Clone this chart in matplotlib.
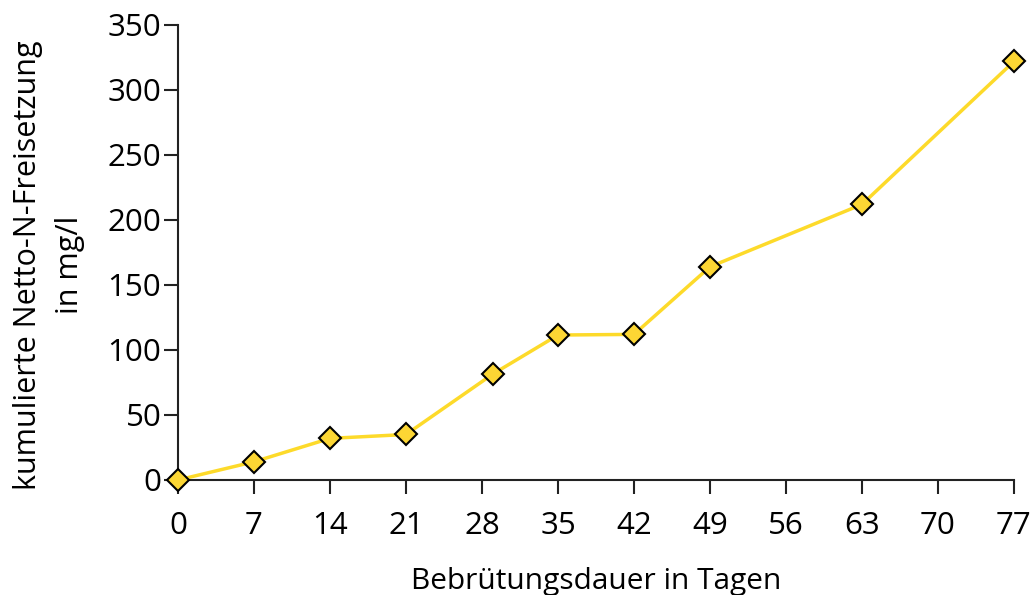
import matplotlib
matplotlib.use("Agg")
import matplotlib.pyplot as plt

# Bebrütungsdauer (Tage) und kumulierte Netto-N-Freisetzung (mg/l)
tage = [0, 7, 14, 21, 29, 35, 42, 49, 63, 77]
n_freisetzung = [0, 14, 32, 35, 81.5, 111.5, 112, 164, 212, 322]
x_ticks = [0, 7, 14, 21, 28, 35, 42, 49, 56, 63, 70, 77]
y_ticks = [0, 50, 100, 150, 200, 250, 300, 350]

plt.rcParams['font.family'] = ['Open Sans', 'DejaVu Sans']

fig = plt.figure(figsize=(10.33, 5.95), dpi=100)
ax = fig.add_axes([0.1723, 0.1933, 0.8093, 0.7647])

ax.plot(tage, n_freisetzung, color='#FDDA2A', linewidth=2.5,
        marker='D', markersize=11, markerfacecolor='#FCD634',
        markeredgecolor='black', markeredgewidth=1.5, clip_on=False, zorder=3)

ax.set_xlim(0, 77)
ax.set_ylim(0, 350)
ax.set_xticks(x_ticks)
ax.set_yticks(y_ticks)
ax.tick_params(axis='both', labelsize=22.5, length=10, width=1.5, color='#222222',
               labelcolor='black')
ax.tick_params(axis='x', pad=12)
ax.tick_params(axis='y', pad=2)

for s in ['top', 'right']:
    ax.spines[s].set_visible(False)
for s in ['left', 'bottom']:
    ax.spines[s].set_linewidth(1.5)
    ax.spines[s].set_color('#222222')

ax.set_xlabel('Bebrütungsdauer in Tagen', fontsize=21.5, labelpad=19)
ax.set_ylabel('kumulierte Netto-N-Freisetzung\nin mg/l', fontsize=22,
              linespacing=1.55)
ax.yaxis.set_label_coords(-0.111, 0.4725)

fig.savefig('out.png', dpi=100)
